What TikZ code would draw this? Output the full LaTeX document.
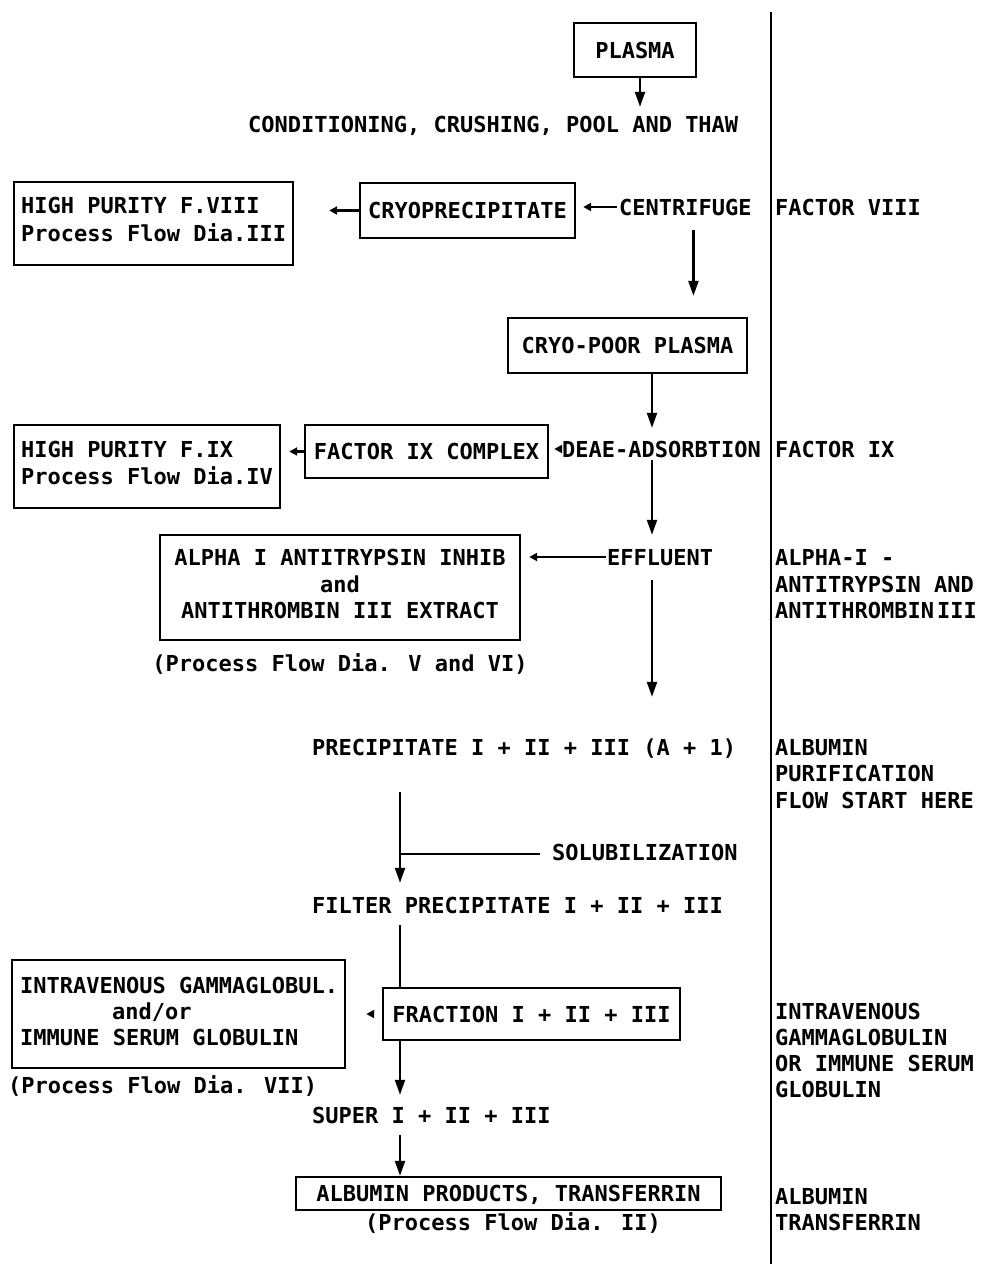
\documentclass[tikz,border=0pt]{standalone}
\usepackage{fontspec}
\setmainfont{DejaVu Sans Mono}
\usetikzlibrary{arrows.meta,calc}
\tikzset{
  box/.style={draw, line width=2.4pt, inner sep=0pt, text height=16pt, text depth=0pt},
  txt/.style={inner sep=0pt, anchor=west, text height=16pt, text depth=0pt},
  ctxt/.style={inner sep=0pt, anchor=center, text height=16pt, text depth=0pt},
  ln/.style={line width=2.2pt},
  arr/.style={line width=2.2pt, -{Triangle[length=15pt,width=10pt]}},
  sarr/.style={line width=2.2pt, -{Triangle[length=8pt,width=8pt]}}
}
\begin{document}
\begin{tikzpicture}[x=1pt,y=-1pt, every node/.style={font=\fontsize{22}{26}\selectfont\bfseries}]
\useasboundingbox (0,0) rectangle (984,1264);
\coordinate (sp) at (652,0);
\coordinate (sp2) at (400,0);
% divider
\coordinate (dtop) at (771,12);
\coordinate (dbot) at (771,1264);
\draw[ln] (dtop) -- (dbot);

% boxes
\node[box, minimum width=122pt, minimum height=54pt] (plasma) at (635,50) {PLASMA};
\node[box, minimum width=215pt, minimum height=55pt] (cryo) at (467.5,210.5) {CRYOPRECIPITATE};
\node[box, minimum width=279pt, minimum height=83pt] (hp8) at (153.5,223.5) {};
\node[box, minimum width=239pt, minimum height=55pt] (cp) at (627.5,345.5) {CRYO-POOR PLASMA};
\node[box, minimum width=266pt, minimum height=83pt] (hp9) at (147,466.5) {};
\node[box, minimum width=243pt, minimum height=53pt] (fix) at (426.5,451.5) {FACTOR IX COMPLEX};
\node[box, minimum width=360pt, minimum height=105pt] (alpha) at (340,587.5) {};
\node[box, minimum width=297pt, minimum height=52pt] (frac) at (531.5,1014) {FRACTION I + II + III};
\node[box, minimum width=333pt, minimum height=108pt] (iv) at (178.5,1014) {};
\node[box, minimum width=425pt, minimum height=33pt] (alb) at (508.5,1193.5) {ALBUMIN PRODUCTS, TRANSFERRIN};

% box texts
\node[txt] (hp8a) at (21,205) {HIGH PURITY F.VIII};
\node[txt] (hp8b) at (21,233) {Process Flow Dia.III};
\node[txt] (hp9a) at (21,449) {HIGH PURITY F.IX};
\node[txt] (hp9b) at (21,476) {Process Flow Dia.IV};
\node[ctxt] (al1) at (340,557) {ALPHA I ANTITRYPSIN INHIB};
\node[ctxt] (al2) at (340,584) {and};
\node[ctxt] (al3) at (340,610) {ANTITHROMBIN III EXTRACT};
\node[txt] (iv1) at (20,985) {INTRAVENOUS GAMMAGLOBUL.};
\node[txt] (iv2) at (112,1011) {and/or};
\node[txt] (iv3) at (20,1037) {IMMUNE SERUM GLOBULIN};

% free texts
\node[txt] (cond) at (248,124) {CONDITIONING, CRUSHING, POOL AND THAW};
\node[txt] (cent) at (619,207) {CENTRIFUGE};
\node[txt] (deae) at (562,449) {DEAE-ADSORBTION};
\node[txt] (eff) at (607,557) {EFFLUENT};
\node[ctxt] (pfv) at (340,663) {(Process Flow Dia. V and VI)};
\node[txt] (prec) at (312,747) {PRECIPITATE I + II + III (A + 1)};
\node[txt] (sol) at (552,852) {SOLUBILIZATION};
\node[txt] (filt) at (312,905) {FILTER PRECIPITATE I + II + III};
\node[txt] (pf7) at (8,1085) {(Process Flow Dia. VII)};
\node[txt] (sup) at (312,1115) {SUPER I + II + III};
\node[txt] (pf2) at (365,1222) {(Process Flow Dia. II)};

% right column
\node[txt] (r1) at (775,207) {FACTOR VIII};
\node[txt] (r2) at (775,449) {FACTOR IX};
\node[txt] (r3) at (775,557) {ALPHA-I -};
\node[txt] (r4) at (775,584) {ANTITRYPSIN AND};
\node[txt] (r5) at (775,610) {ANTITHROMBIN\hspace{3pt}III};
\node[txt] (r6) at (775,747) {ALBUMIN};
\node[txt] (r7) at (775,773) {PURIFICATION};
\node[txt] (r8) at (775,800) {FLOW START HERE};
\node[txt] (r9) at (775,1011) {INTRAVENOUS};
\node[txt] (r10) at (775,1037) {GAMMAGLOBULIN};
\node[txt] (r11) at (775,1063) {OR IMMUNE SERUM};
\node[txt] (r12) at (775,1089) {GLOBULIN};
\node[txt] (r13) at (775,1196) {ALBUMIN};
\node[txt] (r14) at (775,1222) {TRANSFERRIN};

% connectors
\draw[arr, shorten >=9pt] ([xshift=5pt]plasma.south) -- ([xshift=5pt]plasma.south |- cond.north);
\draw[sarr, shorten <=2pt, shorten >=7pt] (cent.west) -- (cent.west -| cryo.east);
\draw[sarr, shorten >=35pt] (cryo.west) -- (cryo.west -| hp8.east);
\draw[arr, shorten <=15pt, shorten >=21pt] ([xshift=8pt]cent.south) -- ([xshift=8pt]cent.south |- cp.north);
\draw[arr, shorten >=13pt] (cp.south -| sp) -- (deae.north -| sp);
\draw[sarr, shorten <=1pt, shorten >=5pt] (deae.west) -- (deae.west -| fix.east);
\draw[sarr, shorten >=8pt] (fix.west) -- (fix.west -| hp9.east);
\draw[arr, shorten <=3pt, shorten >=14pt] (deae.south -| sp) -- (eff.north -| sp);
\draw[sarr, shorten <=1pt, shorten >=8pt] (eff.west) -- (eff.west -| alpha.east);
\draw[arr, shorten <=15pt, shorten >=42pt] (eff.south -| sp) -- (prec.north -| sp);
\draw[arr, shorten <=37pt, shorten >=14pt] (prec.south -| sp2) -- (filt.north -| sp2);
\draw[ln, shorten <=12pt] ([yshift=-2pt]sol.west) -- ([yshift=-2pt]sol.west -| sp2);
\draw[ln, shorten <=12pt] (filt.south -| sp2) -- (frac.north -| sp2);
\draw[sarr, shorten <=10pt, shorten >=20pt] (frac.west) -- (frac.west -| iv.east);
\draw[arr, shorten >=12pt] (frac.south -| sp2) -- (sup.north -| sp2);
\draw[arr, shorten <=12pt] (sup.south -| sp2) -- (alb.north -| sp2);
\end{tikzpicture}
\end{document}
